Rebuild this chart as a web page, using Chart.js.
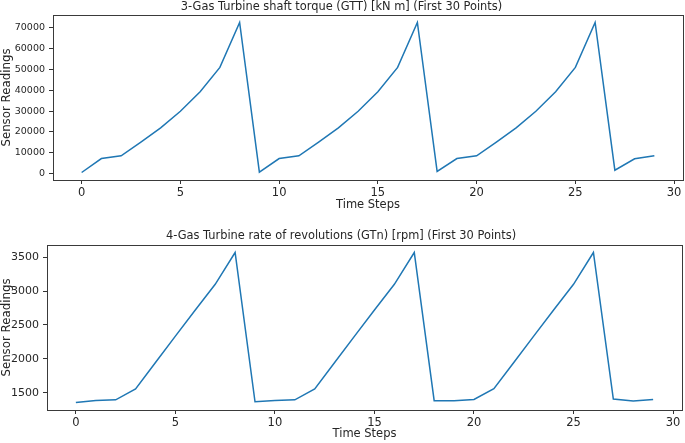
<!DOCTYPE html>
<html lang="en">
<head>
  <meta charset="UTF-8">
  <title>Gas Turbine sensor readings</title>
  <script src="https://cdn.jsdelivr.net/npm/chart.js"></script>
  <style>
    body { margin: 0; background: #fff; }
    .panel { position: absolute; left: 0; width: 685px; }
    #top { top: 0; height: 221px; }
    #bottom { top: 221px; height: 222px; }
  </style>
</head>
<body>
  <div class="panel" id="top"><canvas id="gttChart" width="685" height="221"></canvas></div>
  <div class="panel" id="bottom"><canvas id="gtnChart" width="685" height="222"></canvas></div>

  <script>
    // time steps (first 30 points)
    const timeSteps = [0, 1, 2, 3, 4, 5, 6, 7, 8, 9, 10, 11, 12, 13, 14,
                       15, 16, 17, 18, 19, 20, 21, 22, 23, 24, 25, 26, 27, 28, 29];

    // 3 - gas turbine shaft torque [kN m]
    const gttValues = [480, 7200, 8500, 15100, 21900, 29900, 39300, 51000, 72600,
                       630, 7200, 8500, 15100, 21900, 29900, 39300, 51000, 72600,
                       1000, 7200, 8500, 15100, 21900, 29900, 39300, 51000, 72600,
                       1600, 7100, 8500];

    // 4 - gas turbine rate of revolutions [rpm]
    const gtnValues = [1355, 1385, 1395, 1555, 1945, 2335, 2720, 3100, 3570,
                       1365, 1385, 1395, 1555, 1945, 2335, 2720, 3100, 3570,
                       1382, 1382, 1400, 1558, 1945, 2335, 2720, 3100, 3570,
                       1405, 1378, 1400];

    const xTickValues = [0, 5, 10, 15, 20, 25, 30];
    const gttTickValues = [0, 10000, 20000, 30000, 40000, 50000, 60000, 70000];
    const gtnTickValues = [1500, 2000, 2500, 3000, 3500];

    const FONT = "'DejaVu Sans', sans-serif";
    const TEXT = "#262626";

    // matplotlib-like 5% margins around the data
    function padRange(vals) {
      const lo = Math.min(...vals), hi = Math.max(...vals);
      const m = (hi - lo) * 0.05;
      return [lo - m, hi + m];
    }

    // full box around the plot area
    const frame = {
      id: "frame",
      afterDraw(chart) {
        const a = chart.chartArea, ctx = chart.ctx;
        ctx.save();
        ctx.strokeStyle = "#3a3a3a";
        ctx.lineWidth = 1;
        ctx.strokeRect(Math.round(a.left) + 0.5, Math.round(a.top) + 0.5,
                       Math.round(a.right - a.left), Math.round(a.bottom - a.top));
        ctx.restore();
      }
    };

    function makeChart(id, title, values, yTicks, cfg) {
      const [xMin, xMax] = padRange(timeSteps);
      const [yMin, yMax] = padRange(values);
      return new Chart(document.getElementById(id), {
        type: "line",
        data: {
          datasets: [{
            data: values.map((v, i) => ({ x: timeSteps[i], y: v })),
            borderColor: "#1f77b4",
            borderWidth: 1.5,
            pointRadius: 0,
            tension: 0
          }]
        },
        options: {
          responsive: false,
          animation: false,
          layout: { padding: { left: 0, right: cfg.padRight, top: 0, bottom: 0 } },
          plugins: {
            legend: { display: false },
            tooltip: { enabled: false },
            title: {
              display: true,
              text: title,
              color: TEXT,
              font: { family: FONT, size: 11.4, weight: "normal" },
              padding: cfg.titlePad
            }
          },
          scales: {
            x: {
              type: "linear",
              min: xMin,
              max: xMax,
              afterBuildTicks: s => { s.ticks = xTickValues.map(v => ({ value: v })); },
              afterFit: s => { s.height = cfg.xHeight; },
              grid: { drawOnChartArea: false, drawTicks: true, tickLength: 4, tickColor: "#333" },
              border: { display: false },
              ticks: { color: TEXT, font: { family: FONT, size: 11.5 }, padding: 2, maxRotation: 0,
                       callback: v => String(v) },
              title: {
                display: true, text: "Time Steps", color: TEXT,
                font: { family: FONT, size: 11.5 },
                padding: { top: 0, bottom: cfg.xTitleBottom }
              }
            },
            y: {
              min: yMin,
              max: yMax,
              afterBuildTicks: s => { s.ticks = yTicks.map(v => ({ value: v })); },
              afterFit: s => { s.width = cfg.yWidth; },
              grid: { drawOnChartArea: false, drawTicks: true, tickLength: 4, tickColor: "#333" },
              border: { display: false },
              ticks: { color: TEXT, font: { family: FONT, size: cfg.yTickSize }, padding: 4,
                       callback: v => String(v) },
              title: {
                display: true, text: "Sensor Readings", color: TEXT,
                font: { family: FONT, size: 11.8 },
                padding: { top: 0, bottom: 0 }
              }
            }
          }
        },
        plugins: [frame]
      });
    }

    makeChart("gttChart", "3-Gas Turbine shaft torque (GTT) [kN m] (First 30 Points)",
      gttValues, gttTickValues,
      { padRight: 2, titlePad: { top: 0, bottom: 1.3 }, xHeight: 41, xTitleBottom: 9, yWidth: 53, yTickSize: 9.5 });

    makeChart("gtnChart", "4-Gas Turbine rate of revolutions (GTn) [rpm] (First 30 Points)",
      gtnValues, gtnTickValues,
      { padRight: 3, titlePad: { top: 8.3, bottom: 2 }, xHeight: 33, xTitleBottom: 2, yWidth: 47, yTickSize: 11 });
  </script>
</body>
</html>
